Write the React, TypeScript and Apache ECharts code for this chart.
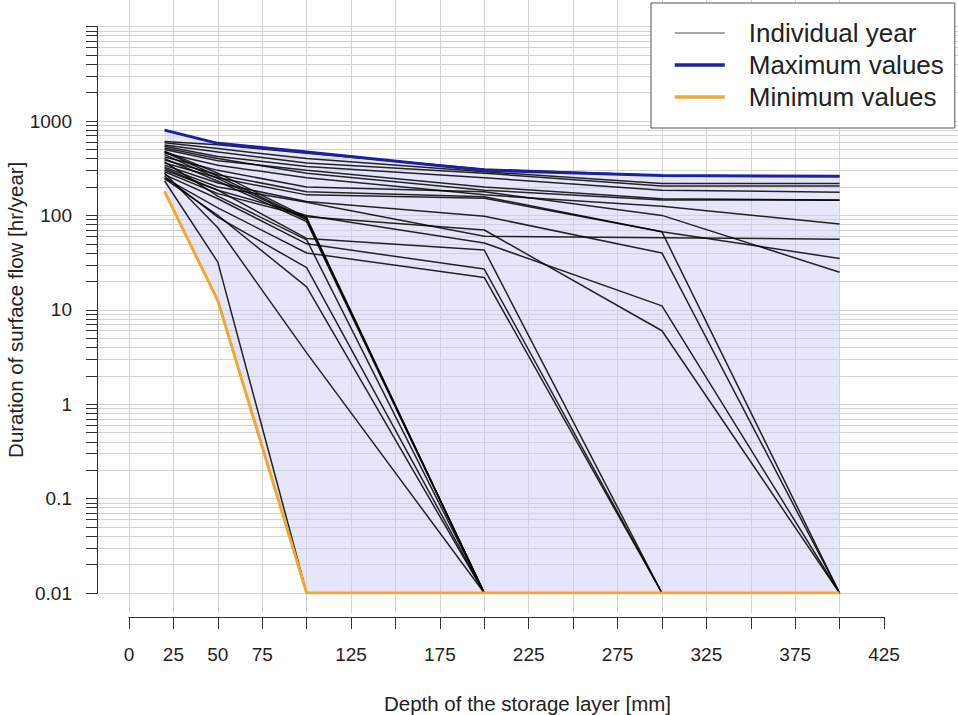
import { useEffect, useRef } from 'react'
import * as echarts from 'echarts'

// depth of the storage layer [mm]
const depths = [20, 50, 100, 200, 300, 400]

// envelope lines
const maxValues = [800, 580, 470, 300, 265, 260]
const minValues = [180, 12.5, 0.01, 0.01, 0.01, 0.01]

// one row per year, 0.01 = no surface flow
const individualYears = [
  [605, 560, 455, 310, 265, 262],
  [590, 510, 400, 290, 218, 218],
  [557, 470, 360, 280, 205, 205],
  [540, 420, 330, 250, 185, 176],
  [500, 380, 300, 200, 150, 146],
  [518, 400, 280, 185, 146, 145],
  [458, 340, 250, 165, 125, 81],
  [325, 200, 138, 60, 58, 56],
  [415, 300, 200, 178, 100, 25],
  [386, 270, 178, 158, 67, 35],
  [359, 250, 165, 152, 67, 0.01],
  [340, 220, 140, 98, 40, 0.01],
  [315, 185, 100, 51, 11, 0.01],
  [290, 170, 97, 70, 6, 0.01],
  [303, 185, 57, 43, 0.01, 0.01],
  [270, 150, 50, 27, 0.01, 0.01],
  [250, 120, 40, 22, 0.01, 0.01],
  [480, 280, 95, 0.01, 0.01, 0.01],
  [470, 260, 92, 0.01, 0.01, 0.01],
  [440, 245, 90, 0.01, 0.01, 0.01],
  [400, 230, 86, 0.01, 0.01, 0.01],
  [370, 160, 55, 0.01, 0.01, 0.01],
  [260, 96, 28, 0.01, 0.01, 0.01],
  [245, 100, 17.5, 0.01, 0.01, 0.01],
  [281, 74, 3.5, 0.01, 0.01, 0.01],
  [233, 32, 0.01, 0.01, 0.01, 0.01]
]

const xLabels = [0, 25, 50, 75, 125, 175, 225, 275, 325, 375, 425]
const yLabels = [0.01, 0.1, 1, 10, 100, 1000]
const yMinorSteps = [1, 2, 3, 4, 5, 6, 7, 8, 9]
const yTicks = yLabels
  .flatMap(d => yMinorSteps.map(k => Number((d * k).toPrecision(2))))
  .concat([10000])

const FONT = '"Liberation Sans", Arial, sans-serif'
const GRID_COLOR = '#d3d3d3'
const AXIS_COLOR = '#333'

export default function App() {
  const chartRef = useRef<HTMLDivElement>(null)

  useEffect(() => {
    if (!chartRef.current) return
    const chart = echarts.init(chartRef.current, undefined, { renderer: 'svg' })

    const pairs = (vals: number[]) => depths.map((d, i) => [d, vals[i]])

    const yearSeries = individualYears.map(vals => ({
      name: 'Individual year',
      type: 'line',
      xAxisIndex: 1,
      yAxisIndex: 1,
      data: pairs(vals),
      symbol: 'none',
      color: '#000',
      lineStyle: { width: 1.5, color: '#000', opacity: 0.85 },
      z: 3
    }))

    const option: any = {
      animation: false,
      textStyle: { fontFamily: FONT, color: '#222' },
      grid: [
        // horizontal grid + y axis
        { left: 97, right: 0, top: 26.6, bottom: 122, outerBoundsMode: 'none' },
        // data area
        { left: 129, right: 74, top: 26.6, bottom: 122, outerBoundsMode: 'none' },
        // vertical grid lines
        { left: 129, right: 118.4, top: 0, bottom: 102, outerBoundsMode: 'none' }
      ],
      xAxis: [
        {
          gridIndex: 0,
          type: 'value',
          min: 0,
          max: 1,
          axisLine: { show: false },
          axisTick: { show: false },
          axisLabel: { show: false },
          splitLine: { show: false },
          name: 'Depth of the storage layer [mm]',
          nameLocation: 'middle',
          nameGap: 100,
          nameTextStyle: { fontSize: 20.5, color: '#222', fontFamily: FONT }
        },
        {
          gridIndex: 1,
          type: 'value',
          min: 0,
          max: 425,
          interval: 25,
          offset: 24,
          axisLine: { lineStyle: { color: AXIS_COLOR, width: 1 } },
          axisTick: { length: 12, lineStyle: { color: AXIS_COLOR } },
          axisLabel: {
            margin: 28,
            fontSize: 19,
            color: '#222',
            fontFamily: FONT,
            formatter: (v: number) => (xLabels.includes(v) ? String(v) : '')
          },
          splitLine: { show: false }
        },
        {
          gridIndex: 2,
          type: 'value',
          min: 0,
          max: 400,
          interval: 25,
          axisLine: { show: false },
          axisTick: { show: false },
          axisLabel: { show: false },
          splitLine: { show: true, lineStyle: { color: GRID_COLOR, width: 1 } }
        }
      ],
      yAxis: [
        {
          gridIndex: 0,
          type: 'log',
          logBase: 10,
          min: 0.01,
          max: 10000,
          axisLine: { show: true, lineStyle: { color: AXIS_COLOR, width: 1 } },
          axisTick: { show: true, length: 11, customValues: yTicks, lineStyle: { color: AXIS_COLOR } },
          axisLabel: {
            customValues: yLabels,
            margin: 25,
            fontSize: 19,
            color: '#222',
            fontFamily: FONT,
            formatter: (v: number) => String(Number(v.toPrecision(3)))
          },
          splitLine: { show: true, lineStyle: { color: GRID_COLOR, width: 1 } },
          name: 'Duration of surface flow [hr/year]',
          nameLocation: 'middle',
          nameGap: 71,
          nameMoveOverlap: false,
          nameTextStyle: { fontSize: 20.5, color: '#222', fontFamily: FONT }
        },
        {
          gridIndex: 1,
          type: 'log',
          logBase: 10,
          min: 0.01,
          max: 10000,
          show: false
        },
        {
          gridIndex: 2,
          type: 'value',
          min: 0,
          max: 1,
          show: false
        }
      ],
      legend: {
        data: [
          { name: 'Individual year', lineStyle: { color: '#333', width: 1.2 } },
          { name: 'Maximum values', lineStyle: { width: 3.5 } },
          { name: 'Minimum values', lineStyle: { width: 3.5 } }
        ],
        orient: 'vertical',
        left: 651,
        top: 3,
        padding: [17, 11, 18, 22],
        itemWidth: 50,
        itemHeight: 14,
        itemGap: 6,
        itemStyle: { opacity: 0 },
        backgroundColor: '#fff',
        borderColor: '#555',
        borderWidth: 1,
        selectedMode: false,
        textStyle: { fontSize: 26, lineHeight: 26, color: '#222', fontFamily: FONT, padding: [0, 0, 0, 19] }
      },
      series: [
        {
          // shaded band between the minimum and the maximum line
          name: 'band',
          type: 'custom',
          xAxisIndex: 1,
          yAxisIndex: 1,
          data: [[depths[0], maxValues[0]]],
          silent: true,
          z: 1,
          renderItem: (_params: any, api: any) => {
            const upper = depths.map((d, i) => api.coord([d, maxValues[i]]))
            const lower = depths.map((d, i) => api.coord([d, minValues[i]])).reverse()
            return {
              type: 'polygon',
              shape: { points: [...upper, ...lower] },
              style: { fill: 'rgba(205, 205, 245, 0.5)', stroke: 'none' }
            }
          }
        },
        ...yearSeries,
        {
          name: 'Maximum values',
          type: 'line',
          xAxisIndex: 1,
          yAxisIndex: 1,
          data: pairs(maxValues),
          symbol: 'none',
          color: '#1f1fa3',
          lineStyle: { width: 3, color: '#1f1fa3' },
          z: 5
        },
        {
          name: 'Minimum values',
          type: 'line',
          xAxisIndex: 1,
          yAxisIndex: 1,
          data: pairs(minValues),
          symbol: 'none',
          color: '#f0a830',
          lineStyle: { width: 3, color: '#f0a830' },
          z: 5
        }
      ]
    }

    chart.setOption(option)

    return () => {
      chart.dispose()
    }
  }, [])

  return (
    <div
      ref={chartRef}
      style={{ position: 'fixed', left: 0, top: 0, width: 958, height: 715, background: '#fff' }}
    />
  )
}
